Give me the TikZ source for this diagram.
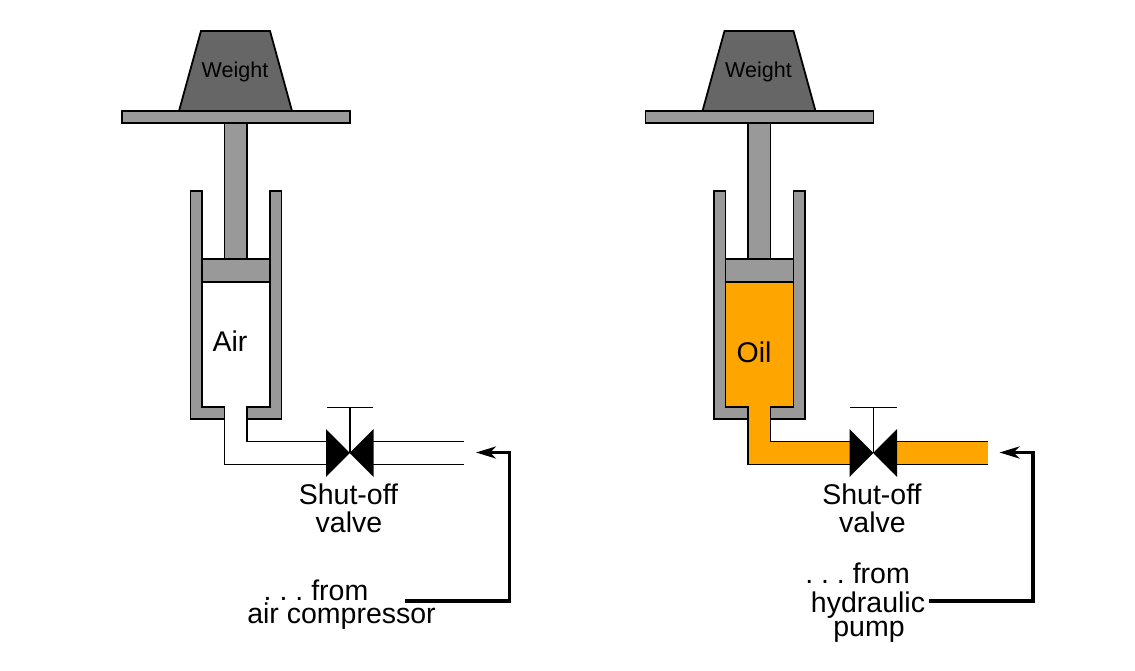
\documentclass[tikz,border=0pt]{standalone}
\usepackage{fontspec}
\setmainfont{Liberation Sans}
\usetikzlibrary{arrows.meta}
\definecolor{weightgray}{HTML}{666666}
\definecolor{steelgray}{HTML}{999999}
\definecolor{oilorange}{HTML}{FFA500}

% One lift: weight, platform, ram, cylinder, pipe and valve. #1 = fluid colour
\newcommand{\drawlift}[1]{%
  % Fluid, the pipe stops on both sides of the valve
  \fill[#1] (202,282) -- (270,282) -- (270,407) -- (247,407) -- (247,441.5)
    -- (326.5,441.5) -- (326.5,464.5) -- (224.5,464.5) -- (224.5,407) -- (202,407) -- cycle;
  \fill[#1] (373,441.5) rectangle (464,464.5);
  % Weight and ram
  \draw[part, fill=weightgray] (201,31) -- (270,31) -- (292,111) -- (179,111) -- cycle;
  \draw[part, fill=steelgray] (122,111) rectangle (350,123);
  \draw[part, fill=steelgray] (224.5,123) rectangle (247,259);
  \draw[part, fill=steelgray] (202,259) rectangle (270,282);
  % Cylinder walls
  \draw[part, fill=steelgray] (190.5,191) -- (202,191) -- (202,407) -- (224.5,407)
    -- (224.5,419) -- (190.5,419) -- cycle;
  \draw[part, fill=steelgray] (281.5,191) -- (270,191) -- (270,407) -- (247,407)
    -- (247,419) -- (281.5,419) -- cycle;
  % Pipe walls
  \draw[part] (224.5,419) -- (224.5,464.5) -- (326.5,464.5);
  \draw[part] (247,419) -- (247,441.5) -- (326.5,441.5);
  \draw[part] (373,441.5) -- (464,441.5);
  \draw[part] (373,464.5) -- (464,464.5);
  % Valve
  \draw[part] (350,453) -- (350,407.5);
  \draw[part] (326.5,407.5) -- (373,407.5);
  \fill (326,429) -- (373.5,477) -- (373.5,429) -- (326,477) -- cycle;
}

\begin{document}
\begin{tikzpicture}[
    x=1pt, y=-1pt,
    part/.style={draw=black, line width=1.8pt, line join=miter},
    lead/.style={line width=3.3pt, line join=miter, -{Stealth[length=20pt,width=12pt,inset=6pt]}},
    big/.style={font=\fontsize{28.5}{28.5}\selectfont, anchor=base, inner sep=0pt, outer sep=0pt},
    small/.style={font=\fontsize{21.5}{21.5}\selectfont, anchor=base, inner sep=0pt, outer sep=0pt}
]
\useasboundingbox (0,0) rectangle (1135,671);

% Left: air
\drawlift{white}
\node[small] (weightL) at (235,78) {Weight};
\node[big] (air) at (230,351) {Air};
\node[big] (valveL) at (348.5,504) {Shut-off};
\node[big] (valveLb) at (349,532) {valve};
\node[big] (fromL) at (316,600) {.\ .\ .\ from};
\node[big] (compressor) at (341.5,623) {air compressor};
\coordinate (leadL) at (405,601);
\coordinate (portL) at (476,452.5);
\draw[lead] (leadL) -- (509.5,601) -- (509.5,452.5) -- (portL);

% Right: oil
\begin{scope}[xshift=523.5pt]
  \drawlift{oilorange}
\end{scope}
\node[small] (weightR) at (758.5,78) {Weight};
\node[big] (oil) at (754,362) {Oil};
\node[big] (valveR) at (872,504) {Shut-off};
\node[big] (valveRb) at (872.5,532) {valve};
\node[big] (fromR) at (857.5,583) {.\ .\ .\ from};
\node[big] (hydraulic) at (868,612) {hydraulic};
\node[big] (pump) at (869,636) {pump};
\coordinate (leadR) at (929,601);
\coordinate (portR) at (999.5,452.5);
\draw[lead] (leadR) -- (1033,601) -- (1033,452.5) -- (portR);
\end{tikzpicture}
\end{document}
